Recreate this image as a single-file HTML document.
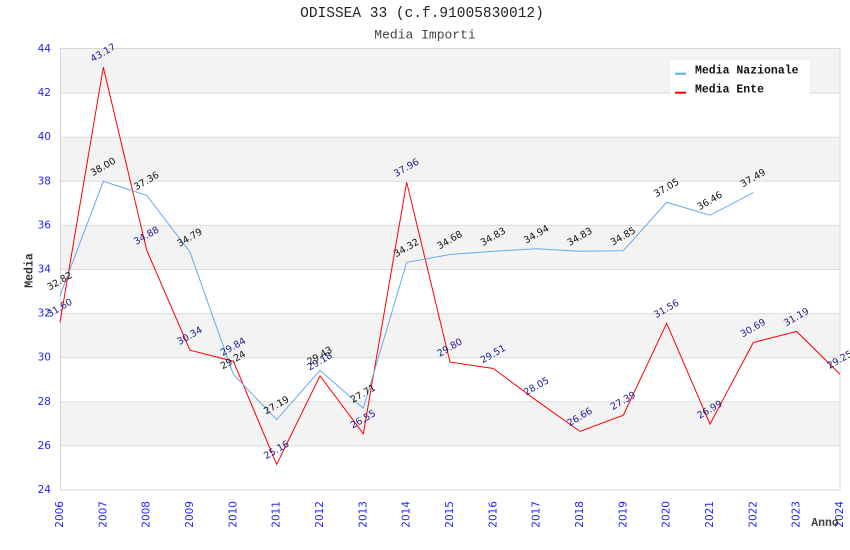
<!DOCTYPE html>
<html><head><meta charset="utf-8"><style>
html,body{margin:0;padding:0;background:#fff;}
svg{display:block;}
.yl{font-family:"DejaVu Sans","Liberation Sans",sans-serif;font-size:10.5px;fill:#1f1fff;}
.lb{font-family:"DejaVu Sans","Liberation Sans",sans-serif;font-size:9.5px;text-anchor:middle;dominant-baseline:central;}
.lk{fill:#111;}
.ln{fill:#1c1c8c;}
</style></head><body>
<svg width="850" height="550" viewBox="0 0 850 550" xmlns="http://www.w3.org/2000/svg">
<rect x="0" y="0" width="850" height="550" fill="#fff"/>
<text x="422" y="14" text-anchor="middle" dominant-baseline="central" font-family="Liberation Mono, monospace" font-size="14.5" fill="#222">ODISSEA 33 (c.f.91005830012)</text>
<text x="425" y="35" text-anchor="middle" dominant-baseline="central" font-family="Liberation Mono, monospace" font-size="13" fill="#444">Media Importi</text>
<g fill="#f3f3f3">
<rect x="60" y="49" width="780" height="44.1"/>
<rect x="60" y="137.2" width="780" height="44.1"/>
<rect x="60" y="225.4" width="780" height="44.1"/>
<rect x="60" y="313.6" width="780" height="44.1"/>
<rect x="60" y="401.8" width="780" height="44.1"/>
</g>
<g stroke="#dcdcdc" stroke-width="1">
<line x1="60" y1="93.1" x2="840" y2="93.1"/>
<line x1="60" y1="137.2" x2="840" y2="137.2"/>
<line x1="60" y1="181.3" x2="840" y2="181.3"/>
<line x1="60" y1="225.4" x2="840" y2="225.4"/>
<line x1="60" y1="269.5" x2="840" y2="269.5"/>
<line x1="60" y1="313.6" x2="840" y2="313.6"/>
<line x1="60" y1="357.7" x2="840" y2="357.7"/>
<line x1="60" y1="401.8" x2="840" y2="401.8"/>
<line x1="60" y1="445.9" x2="840" y2="445.9"/>
</g>
<rect x="60.5" y="48.5" width="779.5" height="441.5" fill="none" stroke="#d8d8d8" stroke-width="1"/>
<g class="yl" text-anchor="end" dominant-baseline="central">
<text x="51" y="49">44</text>
<text x="51" y="93.1">42</text>
<text x="51" y="137.2">40</text>
<text x="51" y="181.3">38</text>
<text x="51" y="225.4">36</text>
<text x="51" y="269.5">34</text>
<text x="51" y="313.6">32</text>
<text x="51" y="357.7">30</text>
<text x="51" y="401.8">28</text>
<text x="51" y="445.9">26</text>
<text x="51" y="490">24</text>
</g>
<g class="yl" text-anchor="end" dominant-baseline="central">
<text transform="translate(60,501) rotate(-90)">2006</text>
<text transform="translate(103.33,501) rotate(-90)">2007</text>
<text transform="translate(146.67,501) rotate(-90)">2008</text>
<text transform="translate(190,501) rotate(-90)">2009</text>
<text transform="translate(233.33,501) rotate(-90)">2010</text>
<text transform="translate(276.67,501) rotate(-90)">2011</text>
<text transform="translate(320,501) rotate(-90)">2012</text>
<text transform="translate(363.33,501) rotate(-90)">2013</text>
<text transform="translate(406.67,501) rotate(-90)">2014</text>
<text transform="translate(450,501) rotate(-90)">2015</text>
<text transform="translate(493.33,501) rotate(-90)">2016</text>
<text transform="translate(536.67,501) rotate(-90)">2017</text>
<text transform="translate(580,501) rotate(-90)">2018</text>
<text transform="translate(623.33,501) rotate(-90)">2019</text>
<text transform="translate(666.67,501) rotate(-90)">2020</text>
<text transform="translate(710,501) rotate(-90)">2021</text>
<text transform="translate(753.33,501) rotate(-90)">2022</text>
<text transform="translate(796.67,501) rotate(-90)">2023</text>
<text transform="translate(840,501) rotate(-90)">2024</text>
</g>
<text transform="translate(30,270.5) rotate(-90)" text-anchor="middle" dominant-baseline="central" font-family="Liberation Mono, monospace" font-weight="bold" font-size="11.5" fill="#333">Media</text>
<text x="825" y="523.5" text-anchor="middle" dominant-baseline="central" font-family="Liberation Mono, monospace" font-weight="bold" font-size="11.5" fill="#444">Anno</text>
<polyline fill="none" stroke="#ff0000" stroke-width="1" points="60,322.42 103.33,67.3 146.67,250.1 190,350.2 233.33,361.23 276.67,464.42 320,375.78 363.33,433.77 406.67,182.18 450,362.11 493.33,368.5 536.67,400.7 580,431.35 623.33,415.25 666.67,323.3 710,424.07 753.33,342.49 796.67,331.46 840,374.24"/>
<polyline fill="none" stroke="#66aaee" stroke-width="1" points="60,295.52 103.33,181.3 146.67,195.41 190,252.08 233.33,374.46 276.67,419.66 320,370.27 363.33,408.19 406.67,262.44 450,254.51 493.33,251.2 536.67,248.77 580,251.2 623.33,250.76 666.67,202.25 710,215.26 753.33,192.55"/>
<g class="lb ln">
<text transform="translate(60,308.4) rotate(-30)">31.60</text>
<text transform="translate(103.33,53.3) rotate(-30)">43.17</text>
<text transform="translate(146.67,236.1) rotate(-30)">34.88</text>
<text transform="translate(190,336.2) rotate(-30)">30.34</text>
<text transform="translate(233.33,347.2) rotate(-30)">29.84</text>
<text transform="translate(276.67,450.4) rotate(-30)">25.16</text>
<text transform="translate(320,361.8) rotate(-30)">29.18</text>
<text transform="translate(363.33,419.8) rotate(-30)">26.55</text>
<text transform="translate(406.67,168.2) rotate(-30)">37.96</text>
<text transform="translate(450,348.1) rotate(-30)">29.80</text>
<text transform="translate(493.33,354.5) rotate(-30)">29.51</text>
<text transform="translate(536.67,386.7) rotate(-30)">28.05</text>
<text transform="translate(580,417.4) rotate(-30)">26.66</text>
<text transform="translate(623.33,401.3) rotate(-30)">27.39</text>
<text transform="translate(666.67,309.3) rotate(-30)">31.56</text>
<text transform="translate(710,410.1) rotate(-30)">26.99</text>
<text transform="translate(753.33,328.5) rotate(-30)">30.69</text>
<text transform="translate(796.67,317.5) rotate(-30)">31.19</text>
<text transform="translate(840,360.2) rotate(-30)">29.25</text>
</g>
<g class="lb lk">
<text transform="translate(60,281.5) rotate(-30)">32.82</text>
<text transform="translate(103.33,167.3) rotate(-30)">38.00</text>
<text transform="translate(146.67,181.4) rotate(-30)">37.36</text>
<text transform="translate(190,238.1) rotate(-30)">34.79</text>
<text transform="translate(233.33,360.5) rotate(-30)">29.24</text>
<text transform="translate(276.67,405.7) rotate(-30)">27.19</text>
<text transform="translate(320,356.3) rotate(-30)">29.43</text>
<text transform="translate(363.33,394.2) rotate(-30)">27.71</text>
<text transform="translate(406.67,248.4) rotate(-30)">34.32</text>
<text transform="translate(450,240.5) rotate(-30)">34.68</text>
<text transform="translate(493.33,237.2) rotate(-30)">34.83</text>
<text transform="translate(536.67,234.8) rotate(-30)">34.94</text>
<text transform="translate(580,237.2) rotate(-30)">34.83</text>
<text transform="translate(623.33,236.8) rotate(-30)">34.85</text>
<text transform="translate(666.67,188.3) rotate(-30)">37.05</text>
<text transform="translate(710,201.3) rotate(-30)">36.46</text>
<text transform="translate(753.33,178.6) rotate(-30)">37.49</text>
</g>
<rect x="670" y="60" width="140" height="38" fill="#fff"/>
<rect x="675" y="72.7" width="11" height="2" fill="#66aaee"/>
<rect x="675" y="91.7" width="11" height="2" fill="#ff0000"/>
<text x="695" y="71" dominant-baseline="central" font-family="Liberation Mono, monospace" font-weight="bold" font-size="11.5" fill="#111">Media Nazionale</text>
<text x="695" y="90" dominant-baseline="central" font-family="Liberation Mono, monospace" font-weight="bold" font-size="11.5" fill="#111">Media Ente</text>
</svg>
</body></html>
